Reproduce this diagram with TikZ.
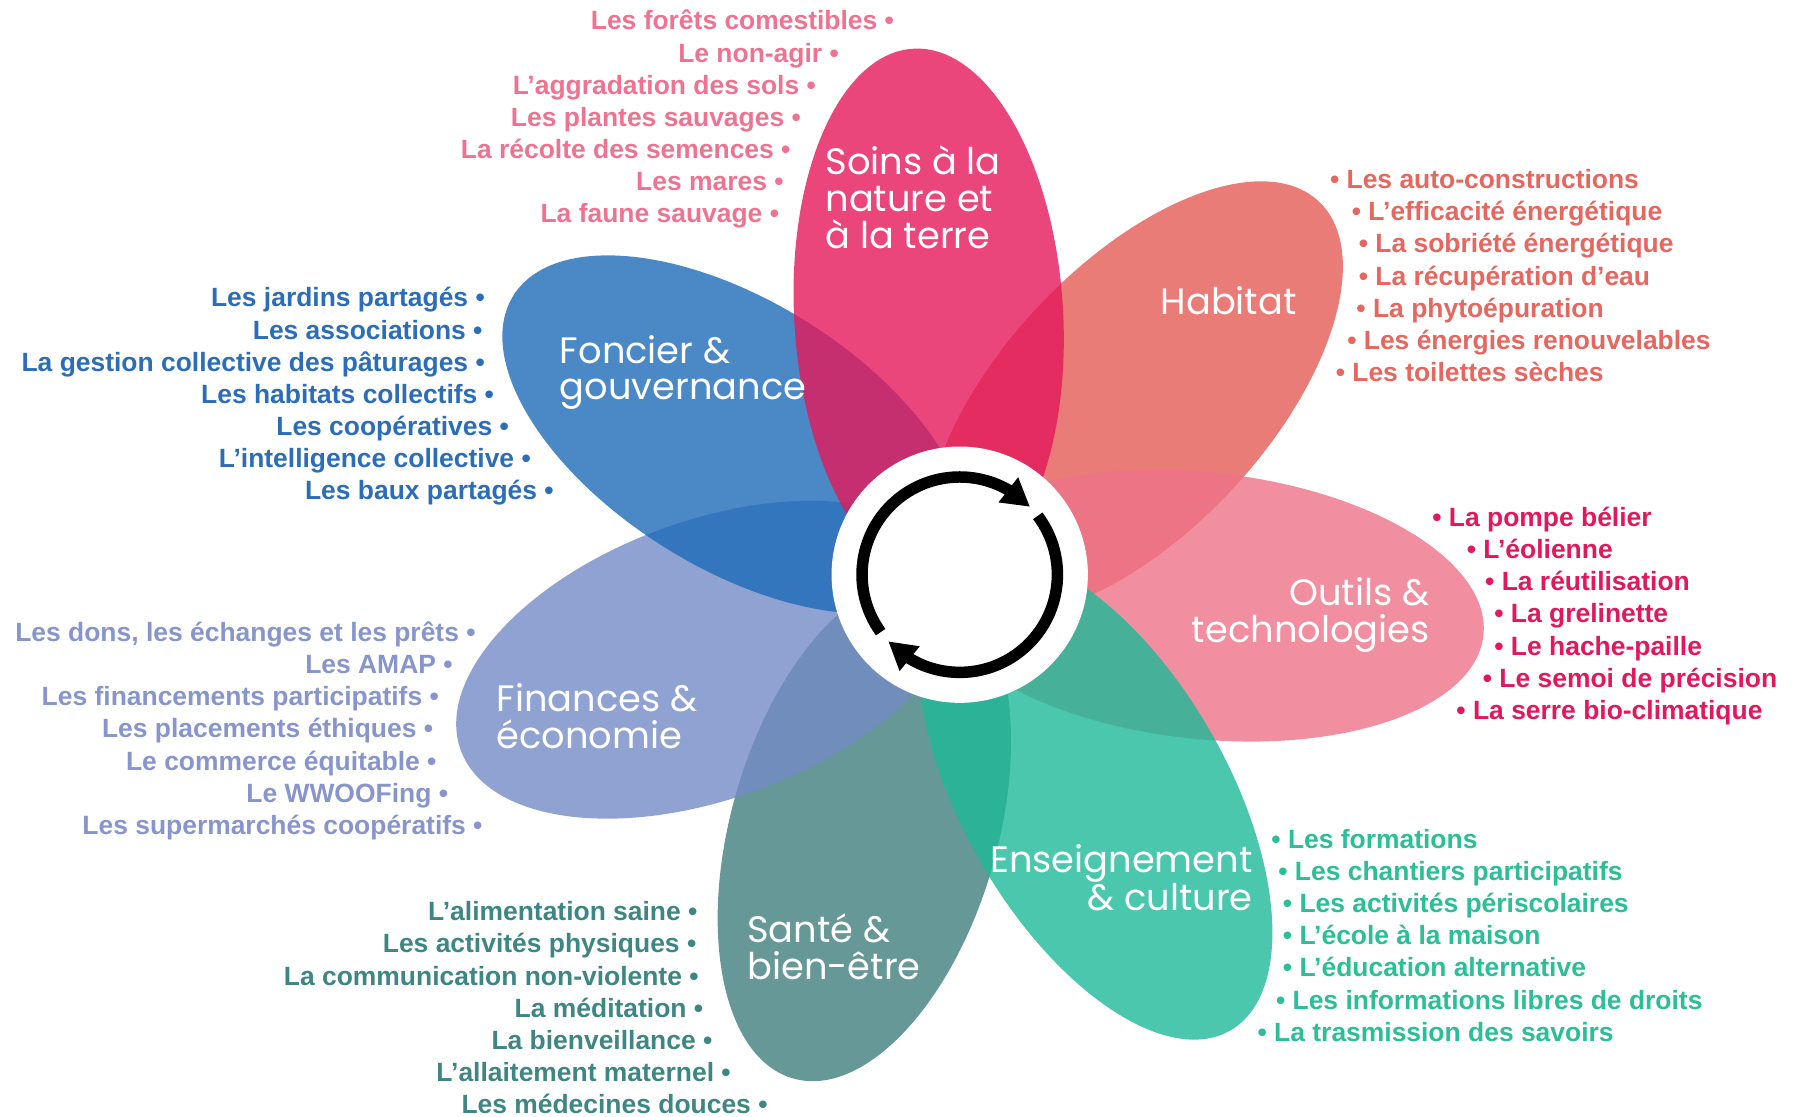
\documentclass[tikz,border=0pt]{standalone}
\usepackage{fontspec}
\usepackage{xcolor}
\usepackage{tikz}
\usetikzlibrary{arrows.meta,bending}
\newfontfamily\itemfont{Liberation Sans}
\newfontfamily\petalfont{Poppins}

\definecolor{habitatC}{HTML}{E45B55}
\definecolor{outilsC}{HTML}{EE7388}
\definecolor{santeC}{HTML}{3F7E7C}
\definecolor{enseignC}{HTML}{1DB998}
\definecolor{financesC}{HTML}{738BC5}
\definecolor{foncierC}{HTML}{1E6BB8}
\definecolor{soinsC}{HTML}{E5185A}

\definecolor{soinsT}{HTML}{EF7391}
\definecolor{habitatT}{HTML}{E5675F}
\definecolor{outilsT}{HTML}{E3175B}
\definecolor{enseignT}{HTML}{2BBE97}
\definecolor{santeT}{HTML}{3D8683}
\definecolor{financesT}{HTML}{8795CC}
\definecolor{foncierT}{HTML}{2B6DB8}

\tikzstyle{petal} = [fill opacity=0.8]
\tikzstyle{petaltitle} = [text=white, inner sep=0pt, font=\petalfont\fontsize{32}{32}\selectfont]
\tikzstyle{leftitem} = [anchor=base east, inner sep=0pt, font=\itemfont\bfseries\fontsize{23}{28}\selectfont]
\tikzstyle{rightitem} = [anchor=base west, inner sep=0pt, font=\itemfont\bfseries\fontsize{23}{28}\selectfont]
\tikzstyle{ring} = [line width=10pt, black]

\newcommand{\petal}[6]{%
\fill[petal, #6, rotate around={#3:(#1,-#2)}] (#1,-#2) ellipse ({#4} and {#5});
}

\begin{document}
\begin{tikzpicture}[x=1pt, y=1pt]
        \useasboundingbox (0,0) rectangle (1560,-971);
        % petals
        \petal{987}{347}{47}{235}{116}{habitatC}
        \petal{1047}{527}{-6}{245}{116}{outilsC}
        \petal{752}{722}{74}{225}{116}{santeC}
        \petal{953}{693}{-60}{235}{115}{enseignC}
        \petal{617}{574}{20}{230}{121}{financesC}
        \petal{640}{378}{-32}{228}{116}{foncierC}
        \petal{808}{275}{93.3}{233}{117}{soinsC}
        % centre
        \node[circle, fill=white, minimum size=223pt, inner sep=0pt] (hub) at (835,-500) {};
        \draw[ring, -{Triangle[length=24pt, width=26pt]}] ([shift={(216:85)}]hub.center) arc[start angle=216, end angle=44, radius=85];
        \draw[ring, -{Triangle[length=24pt, width=26pt]}] ([shift={(37:85)}]hub.center) arc[start angle=37, end angle=-137, radius=85];
        % titles
        \node[petaltitle, anchor=base west, align=left] (soins) at (718,-216) {Soins à la\\nature et\\à la terre};
        \node[petaltitle, anchor=base] (habitat) at (1069,-274) {Habitat};
        \node[petaltitle, anchor=base east, align=right] (outils) at (1244,-559) {Outils \&\\technologies};
        \node[petaltitle, anchor=base east, align=right] (enseign) at (1090,-792) {Enseignement\\\& culture};
        \node[petaltitle, anchor=base west, align=left] (sante) at (650,-852) {Santé \&\\bien-être};
        \node[petaltitle, anchor=base west, align=left] (finances) at (432,-651) {Finances \&\\économie};
        \node[petaltitle, anchor=base west, align=left] (foncier) at (487,-348) {Foncier \&\\gouvernance};
        % lists
        \foreach \t/\x [count=\i] in {Les forêts comestibles/778, Le non-agir/730, L’aggradation des sols/710, Les plantes sauvages/697, La récolte des semences/688, Les mares/682, La faune sauvage/678}
            \node[leftitem, soinsT] (soins\i) at (\x,{2-28*\i}) {\t{} •};
        \foreach \t/\x [count=\i] in {Les auto-constructions/1157, L’efficacité énergétique/1176, La sobriété énergétique/1182, La récupération d’eau/1182, La phytoépuration/1180, Les énergies renouvelables/1172, Les toilettes sèches/1162}
            \node[rightitem, habitatT] (habitat\i) at (\x,{-136-28*\i}) {• \t};
        \foreach \t/\x [count=\i] in {La pompe bélier/1246, L’éolienne/1276, La réutilisation/1292, La grelinette/1300, Le hache-paille/1300, Le semoi de précision/1290, La serre bio-climatique/1267}
            \node[rightitem, outilsT] (outils\i) at (\x,{-430-28*\i}) {• \t};
        \foreach \t/\x [count=\i] in {Les formations/1106, Les chantiers participatifs/1112, Les activités périscolaires/1116, L’école à la maison/1116, L’éducation alternative/1116, Les informations libres de droits/1110, La trasmission des savoirs/1094}
            \node[rightitem, enseignT] (enseign\i) at (\x,{-710-28*\i}) {• \t};
        \foreach \t/\x [count=\i] in {L’alimentation saine/607, Les activités physiques/606, La communication non-violente/608, La méditation/612, La bienveillance/620, L’allaitement maternel/636, Les médecines douces/668}
            \node[leftitem, santeT] (sante\i) at (\x,{-773-28*\i}) {\t{} •};
        \foreach \t/\x [count=\i] in {{Les dons, les échanges et les prêts}/414, Les AMAP/394, Les financements participatifs/382, Les placements éthiques/377, Le commerce équitable/380, Le WWOOFing/390, Les supermarchés coopératifs/420}
            \node[leftitem, financesT] (finances\i) at (\x,{-530-28*\i}) {\t{} •};
        \foreach \t/\x [count=\i] in {Les jardins partagés/422, Les associations/420, La gestion collective des pâturages/422, Les habitats collectifs/430, Les coopératives/443, L’intelligence collective/462, Les baux partagés/482}
            \node[leftitem, foncierT] (foncier\i) at (\x,{-239-28*\i}) {\t{} •};
    \end{tikzpicture}
\end{document}
